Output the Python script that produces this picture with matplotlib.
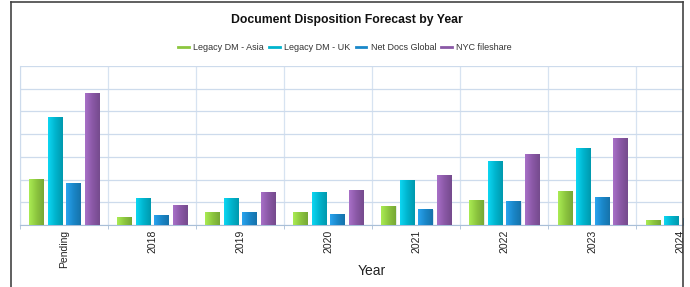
import numpy as np
import matplotlib
matplotlib.use("Agg")
import matplotlib.pyplot as plt
from matplotlib.lines import Line2D
from matplotlib.colors import LinearSegmentedColormap, to_rgb

plt.rcParams['font.family'] = ['Liberation Sans', 'DejaVu Sans']

# data (gridline units)
years = ['Pending', '2018', '2019', '2020', '2021', '2022', '2023', '2024']
series_names = ['Legacy DM - Asia', 'Legacy DM - UK', 'Net Docs Global', 'NYC fileshare']
asia = [2.00, 0.35, 0.56, 0.56, 0.83, 1.10, 1.49, 0.22]
uk = [4.74, 1.17, 1.17, 1.43, 1.96, 2.81, 3.38, 0.38]
net_docs = [1.83, 0.44, 0.53, 0.48, 0.67, 1.04, 1.20, 0.30]
nyc = [5.79, 0.88, 1.43, 1.54, 2.19, 3.11, 3.82, 0.60]
colors = ['#8cc63f', '#00b4cd', '#1a87c9', '#8a58a6']

fig = plt.figure(figsize=(6.9, 2.87), dpi=100)
ax = fig.add_axes([20 / 690, 1 - 225 / 287, 663 / 690, 159 / 287])

x = np.arange(len(years))
bw = 0.16
step = 0.21
all_series = [asia, uk, net_docs, nyc]
for i, (vals, c) in enumerate(zip(all_series, colors)):
    bars = ax.bar(x + (i - 1.5) * step, vals, bw, color=c, edgecolor='#e8eef4',
                  linewidth=0.6, zorder=3)
    # simple left-to-right gradient on each bar
    rgb = np.array(to_rgb(c))
    cmap = LinearSegmentedColormap.from_list(
        'g', [np.clip(rgb * 1.12 + 0.05, 0, 1), rgb, rgb * 0.85])
    grad = np.linspace(0, 1, 32).reshape(1, -1)
    for b in bars:
        x0, y0 = b.get_x(), b.get_y()
        ax.imshow(grad, cmap=cmap, aspect='auto', zorder=3.5,
                  extent=[x0, x0 + b.get_width(), y0, y0 + b.get_height()])

ax.set_xlim(-0.5, 7.03)
ax.set_ylim(0, 7)

ax.set_xticks(x)
ax.set_xticklabels(years, rotation=90, fontsize=7.5, color='#222222')
ax.set_xticks(x - 0.5, minor=True)
ax.tick_params(axis='x', which='major', length=0, pad=3.5)
ax.tick_params(axis='x', which='minor', length=3, color='#a9bfd8')
ax.set_yticks(np.arange(0, 8))
ax.tick_params(axis='y', labelleft=False, length=0)
ax.grid(True, axis='y', color='#cddbec', linewidth=0.9, zorder=0)
ax.grid(True, axis='x', which='minor', color='#d7e3f1', linewidth=0.9, zorder=0)
ax.grid(False, axis='x', which='major')
for s in ['top', 'right']:
    ax.spines[s].set_visible(False)
ax.spines['left'].set_color('#cddbec')
ax.spines['bottom'].set_color('#a9bfd8')

ax.set_xlabel('Year', fontsize=10, color='#222222', labelpad=-3, x=0.53)

fig.text(0.503, 0.93, 'Document Disposition Forecast by Year', ha='center',
         va='center', fontsize=8.8, fontweight='bold', color='#111111')

handles = [Line2D([], [], color=c, linewidth=2) for c in colors]
fig.legend(handles, series_names, loc='center', bbox_to_anchor=(0.50, 0.833),
           ncol=4, frameon=False, fontsize=6.5, handlelength=1.2,
           handletextpad=0.45, columnspacing=0.6, labelcolor='#333333')

# outer panel frame
fig.add_artist(Line2D([11 / 690, 11 / 690], [0, 1 - 2 / 287], color='#444444', lw=1.2))
fig.add_artist(Line2D([11 / 690, 683 / 690], [1 - 2 / 287, 1 - 2 / 287], color='#444444', lw=1.2))
fig.add_artist(Line2D([683 / 690, 683 / 690], [0, 1 - 2 / 287], color='#444444', lw=1.2))

fig.savefig('out.png', dpi=100)
